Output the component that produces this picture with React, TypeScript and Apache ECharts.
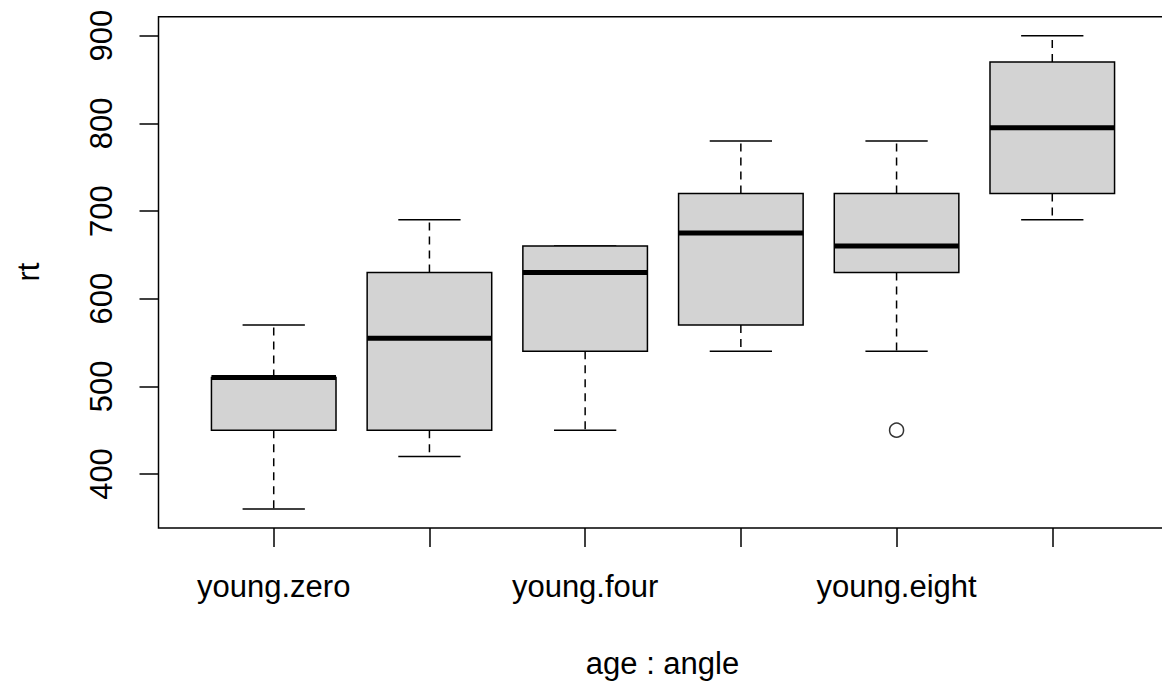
import React, { useEffect, useRef } from "react";
import * as echarts from "echarts";

// ---- data ----
const categories = ["young.zero", "old.zero", "young.four", "old.four", "young.eight", "old.eight"];
const shownLabelPositions = [1, 3, 5];
const whiskerLow = [360, 420, 450, 540, 540, 690];
const quartile1 = [450, 450, 540, 570, 630, 720];
const medians = [510, 555, 630, 675, 660, 795];
const quartile3 = [510, 630, 660, 720, 720, 870];
const whiskerHigh = [570, 690, 660, 780, 780, 900];
const outliers: [number, number][] = [[5, 450]];
const yTicks = [400, 500, 600, 700, 800, 900];
const xTicks = [1, 2, 3, 4, 5, 6];

const FONT = "'Liberation Sans', Arial, Helvetica, sans-serif";

export default function App() {
  const ref = useRef<HTMLDivElement>(null);

  useEffect(() => {
    if (!ref.current) return;
    const chart = echarts.init(ref.current, null, { renderer: "svg" });

    const boxData = categories.map((_, i) => [
      i + 1,
      whiskerLow[i],
      quartile1[i],
      medians[i],
      quartile3[i],
      whiskerHigh[i],
    ]);

    const renderItem = (params: any, api: any) => {
      const x = api.value(0);
      const lo = api.value(1);
      const q1 = api.value(2);
      const md = api.value(3);
      const q3 = api.value(4);
      const hi = api.value(5);
      const halfBox = api.size([0.4, 0])[0];
      const halfCap = api.size([0.2, 0])[0];
      const pLo = api.coord([x, lo]);
      const pQ1 = api.coord([x, q1]);
      const pMd = api.coord([x, md]);
      const pQ3 = api.coord([x, q3]);
      const pHi = api.coord([x, hi]);
      const cx = pMd[0];
      const dashStyle = { stroke: "#000", lineWidth: 1.5, lineDash: [8, 6] };
      const solid = { stroke: "#000", lineWidth: 1.5 };
      return {
        type: "group",
        children: [
          { type: "line", shape: { x1: cx, y1: pQ1[1], x2: cx, y2: pLo[1] }, style: dashStyle },
          { type: "line", shape: { x1: cx, y1: pQ3[1], x2: cx, y2: pHi[1] }, style: dashStyle },
          { type: "line", shape: { x1: cx - halfCap, y1: pLo[1], x2: cx + halfCap, y2: pLo[1] }, style: solid },
          { type: "line", shape: { x1: cx - halfCap, y1: pHi[1], x2: cx + halfCap, y2: pHi[1] }, style: solid },
          {
            type: "rect",
            shape: { x: cx - halfBox, y: pQ3[1], width: halfBox * 2, height: pQ1[1] - pQ3[1] },
            style: { fill: "#D3D3D3", stroke: "#000", lineWidth: 1.5 },
          },
          {
            type: "line",
            shape: { x1: cx - halfBox, y1: pMd[1], x2: cx + halfBox, y2: pMd[1] },
            style: { stroke: "#000", lineWidth: 5 },
          },
        ],
      };
    };

    const option: any = {
      animation: false,
      backgroundColor: "#fff",
      textStyle: { fontFamily: FONT },
      grid: {
        left: 158.5,
        top: 16.8,
        width: 1009,
        height: 511.2,
        show: true,
        borderColor: "#000",
        borderWidth: 1.5,
        backgroundColor: "transparent",
        containLabel: false,
      },
      xAxis: {
        type: "value",
        min: 0.26,
        max: 6.74,
        axisLine: { show: false },
        splitLine: { show: false },
        axisTick: {
          show: true,
          customValues: xTicks,
          length: 19,
          lineStyle: { color: "#000", width: 1.5 },
        },
        axisLabel: {
          show: true,
          customValues: shownLabelPositions,
          formatter: (v: number) => categories[Math.round(v) - 1] ?? "",
          fontSize: 31,
          fontFamily: FONT,
          color: "#000",
          margin: 58,
          verticalAlign: "middle",
          align: "center",
        },
      },
      yAxis: {
        type: "value",
        min: 338.4,
        max: 921.6,
        axisLine: { show: false },
        splitLine: { show: false },
        axisTick: {
          show: true,
          customValues: yTicks,
          length: 19,
          lineStyle: { color: "#000", width: 1.5 },
        },
        axisLabel: {
          show: true,
          customValues: yTicks,
          rotate: 90,
          fontSize: 31,
          fontFamily: FONT,
          color: "#000",
          margin: 57,
          align: "center",
          verticalAlign: "middle",
        },
      },
      graphic: [
        {
          type: "text",
          x: 662.5,
          y: 663,
          style: {
            text: "age : angle",
            font: `31px ${FONT}`,
            fill: "#000",
            textAlign: "center",
            textVerticalAlign: "middle",
          },
        },
        {
          type: "text",
          x: 28,
          y: 272,
          rotation: Math.PI / 2,
          style: {
            text: "rt",
            font: `31px ${FONT}`,
            fill: "#000",
            textAlign: "center",
            textVerticalAlign: "middle",
          },
        },
      ],
      series: [
        {
          type: "custom",
          renderItem,
          data: boxData,
          encode: { x: 0, y: [1, 2, 3, 4, 5] },
          clip: false,
        },
        {
          type: "scatter",
          data: outliers,
          symbol: "circle",
          symbolSize: 14,
          itemStyle: { color: "rgba(0,0,0,0)", borderColor: "#000", borderWidth: 1.5 },
        },
      ],
    };

    chart.setOption(option);
    return () => chart.dispose();
  }, []);

  return (
    <div
      style={{
        position: "fixed",
        left: 0,
        top: 0,
        width: 1162,
        height: 684,
        overflow: "hidden",
        background: "#fff",
      }}
    >
      <div ref={ref} style={{ width: 1180, height: 684 }} />
    </div>
  );
}
